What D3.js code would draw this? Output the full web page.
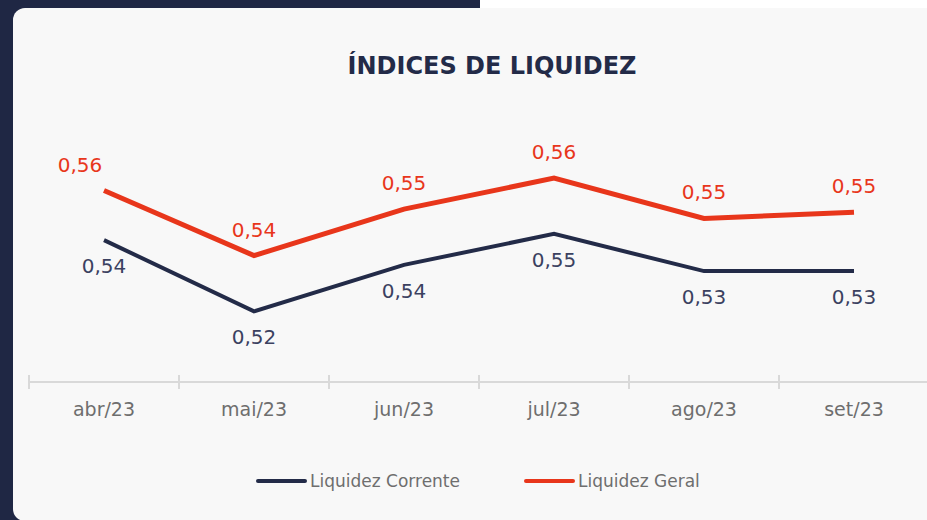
<!DOCTYPE html>
<html>
<head>
<meta charset="utf-8">
<script src="https://cdn.jsdelivr.net/npm/d3@7"></script>
<style>
  html, body { margin: 0; padding: 0; background: #1f2744; overflow: hidden; }
  svg { display: block; }
</style>
</head>
<body>
<svg id="chart"></svg>
<script>
// data
const months = ['abr/23', 'mai/23', 'jun/23', 'jul/23', 'ago/23', 'set/23'];
const liqCorrente = [0.544, 0.521, 0.536, 0.546, 0.534, 0.534];
const liqGeral = [0.560, 0.539, 0.554, 0.564, 0.551, 0.553];
const seriesNames = ['Liquidez Corrente', 'Liquidez Geral'];
const seriesColors = ['#232b48', '#e8361b'];

const width = 927, height = 520;
const font = "'DejaVu Sans', sans-serif";

const svg = d3.select('#chart')
    .attr('width', width)
    .attr('height', height);

// background pieces
svg.append('rect').attr('x', 0).attr('y', 0).attr('width', width).attr('height', height).attr('fill', '#1f2744');
svg.append('rect').attr('x', 480).attr('y', 0).attr('width', width - 480).attr('height', 10).attr('fill', '#ffffff');
svg.append('rect')
    .attr('x', 13).attr('y', 8)
    .attr('width', width + 20).attr('height', height - 8 + 1)
    .attr('rx', 12)
    .attr('fill', '#f8f8f8');

// title
svg.append('text')
    .attr('x', 492).attr('y', 74)
    .attr('text-anchor', 'middle')
    .style('font-family', font)
    .style('font-weight', 'bold')
    .style('font-size', '24px')
    .style('fill', '#232b48')
    .text('ÍNDICES DE LIQUIDEZ');

const x = d3.scaleBand()
    .domain(months)
    .range([29, 929])
    .padding(0);

const y = d3.scaleLinear()
    .domain([0.50, 0.58])
    .range([376.5, 128.5]);

const axisY = 382;

// axis line + ticks at category boundaries
svg.append('line')
    .attr('x1', 29).attr('x2', width)
    .attr('y1', axisY).attr('y2', axisY)
    .attr('stroke', '#d9d9d9').attr('stroke-width', 2);

const boundaries = months.map(m => x(m)).concat([x(months[months.length - 1]) + x.bandwidth()]);
svg.append('g').selectAll('line')
    .data(boundaries)
    .join('line')
    .attr('x1', d => d).attr('x2', d => d)
    .attr('y1', axisY - 7).attr('y2', axisY + 7)
    .attr('stroke', '#d9d9d9').attr('stroke-width', 2);

const xAxis = d3.axisBottom(x).tickSize(0).tickPadding(0);
const xg = svg.append('g')
    .attr('transform', `translate(0, ${axisY + 27})`)
    .call(xAxis);
xg.select('.domain').remove();
xg.selectAll('text')
    .attr('dy', '0.35em')
    .style('font-family', font)
    .style('font-size', '19px')
    .style('fill', '#6e6e6e');

const line = d3.line()
    .x((d, i) => x(months[i]) + x.bandwidth() / 2)
    .y(d => y(d));

const fmt = v => d3.format('.2f')(v).replace('.', ',');

// Liquidez Corrente (navy), labels below
svg.append('path')
    .datum(liqCorrente)
    .attr('d', line)
    .attr('fill', 'none')
    .attr('stroke', seriesColors[0])
    .attr('stroke-width', 4);

svg.append('g').selectAll('text')
    .data(liqCorrente)
    .join('text')
    .attr('x', (d, i) => x(months[i]) + x.bandwidth() / 2)
    .attr('y', d => y(d) + 26)
    .attr('dy', '0.35em')
    .attr('text-anchor', 'middle')
    .style('font-family', font)
    .style('font-size', '20px')
    .style('fill', '#3b4160')
    .text(fmt);

// Liquidez Geral (red), labels above
svg.append('path')
    .datum(liqGeral)
    .attr('d', line)
    .attr('fill', 'none')
    .attr('stroke', seriesColors[1])
    .attr('stroke-width', 5);

svg.append('g').selectAll('text')
    .data(liqGeral)
    .join('text')
    .attr('x', (d, i) => x(months[i]) + x.bandwidth() / 2 + (i === 0 ? -24 : 0))
    .attr('y', d => y(d) - 26)
    .attr('dy', '0.35em')
    .attr('text-anchor', 'middle')
    .style('font-family', font)
    .style('font-size', '20px')
    .style('fill', seriesColors[1])
    .text(fmt);

// legend
const legendX = [258, 526];
const legend = svg.append('g').selectAll('g')
    .data(seriesNames)
    .join('g')
    .attr('transform', (d, i) => `translate(${legendX[i]}, 481)`);

legend.append('line')
    .attr('x1', 0).attr('x2', 47)
    .attr('y1', 0).attr('y2', 0)
    .attr('stroke', (d, i) => seriesColors[i])
    .attr('stroke-width', 4)
    .attr('stroke-linecap', 'round');

legend.append('text')
    .attr('x', 52).attr('y', 0)
    .attr('dy', '0.35em')
    .style('font-family', font)
    .style('font-size', '17px')
    .style('fill', '#6e6e6e')
    .text(d => d);
</script>
</body>
</html>
